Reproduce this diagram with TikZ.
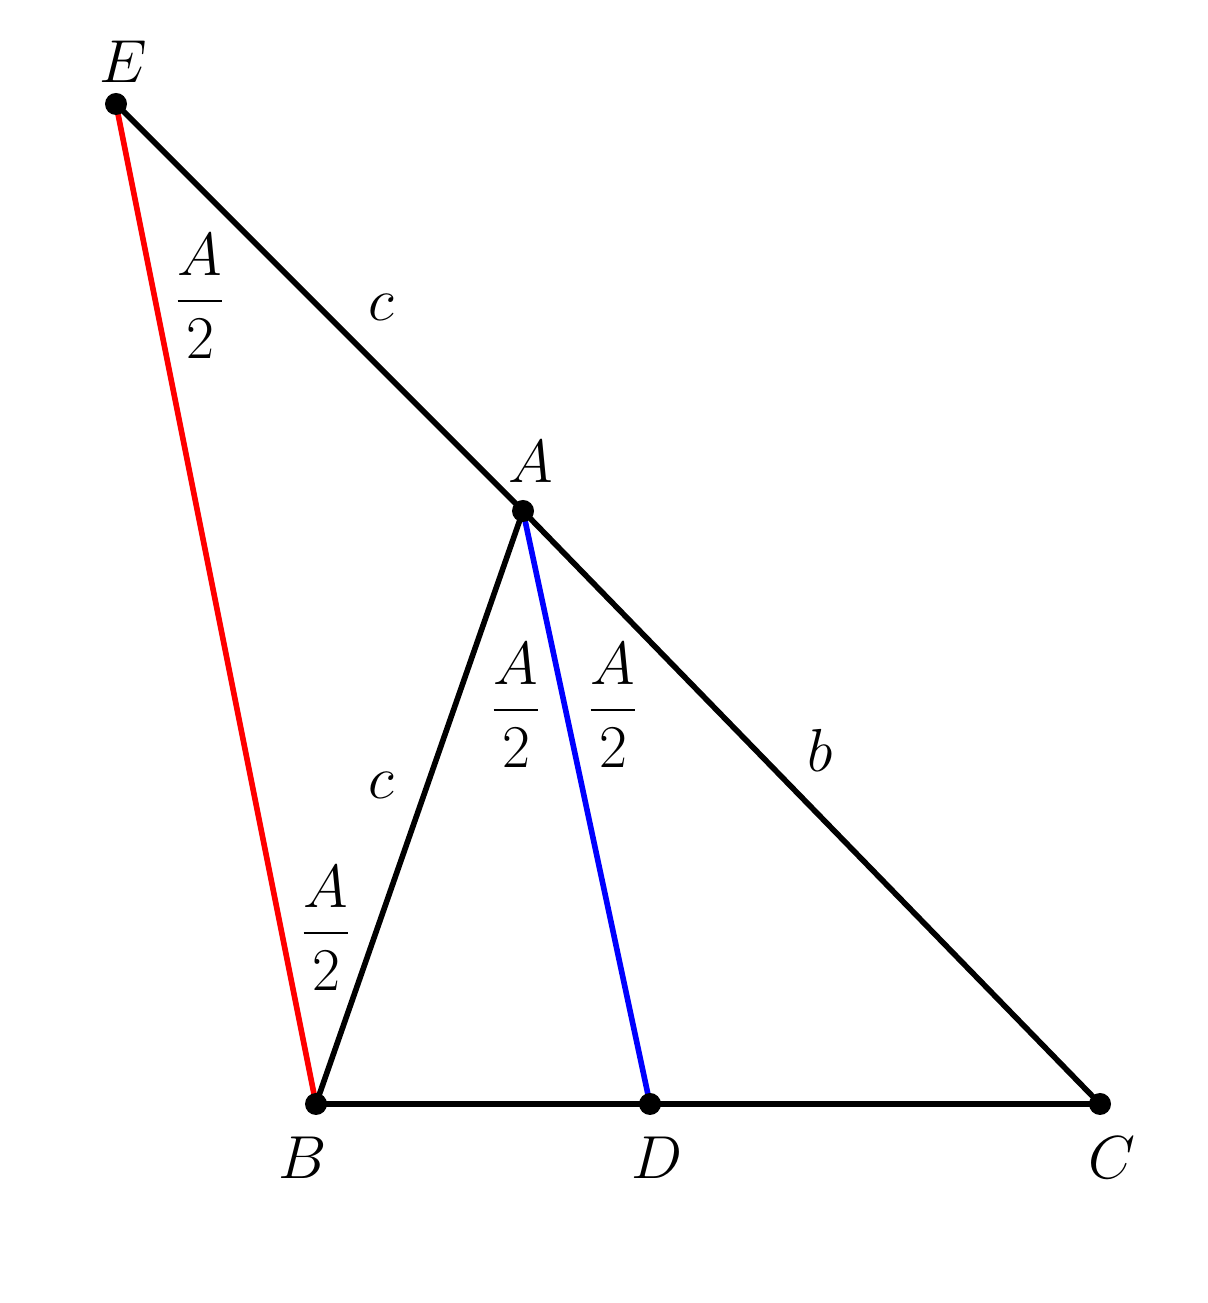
\documentclass[tikz,border=0pt]{standalone}
\usepackage{amsmath}
\begin{document}
\begin{tikzpicture}[
  seg/.style={line width=1.6pt},
  lbl/.style={inner sep=0pt, font=\fontsize{18}{21}\selectfont},
  pt/.style={circle, fill=black, inner sep=0pt, minimum size=0.22cm}
]
\nulldelimiterspace=0pt
\useasboundingbox (0,0) rectangle (12.07,13.03);
\coordinate (E) at (1.16,11.99);
\coordinate (A) at (5.23,7.92);
\coordinate (B) at (3.16,1.99);
\coordinate (D) at (6.50,1.99);
\coordinate (C) at (11.00,1.99);
\draw[seg, red] (E) -- (B);
\draw[seg, blue] (A) -- (D);
\draw[seg] (E) -- (A) -- (C) -- (B) -- (A);
\node[pt] (pE) at (E) {};
\node[pt] (pA) at (A) {};
\node[pt] (pB) at (B) {};
\node[pt] (pD) at (D) {};
\node[pt] (pC) at (C) {};
\node[lbl] (lE) at (1.23,12.41) {$E$};
\node[lbl] (lA) at (5.31,8.41) {$A$};
\node[lbl] (lB) at (3.03,1.45) {$B$};
\node[lbl] (lD) at (6.57,1.45) {$D$};
\node[lbl] (lC) at (11.12,1.45) {$C$};
\node[lbl] (c1) at (3.81,9.96) {$c$};
\node[lbl] (c2) at (3.81,5.18) {$c$};
\node[lbl] (b1) at (8.20,5.53) {$b$};
\node[lbl] (f1) at (2.00,10.07) {$\dfrac{A}{2}$};
\node[lbl] (f2) at (5.16,5.98) {$\dfrac{A}{2}$};
\node[lbl] (f3) at (6.13,5.98) {$\dfrac{A}{2}$};
\node[lbl] (f4) at (3.26,3.75) {$\dfrac{A}{2}$};
\end{tikzpicture}
\end{document}
